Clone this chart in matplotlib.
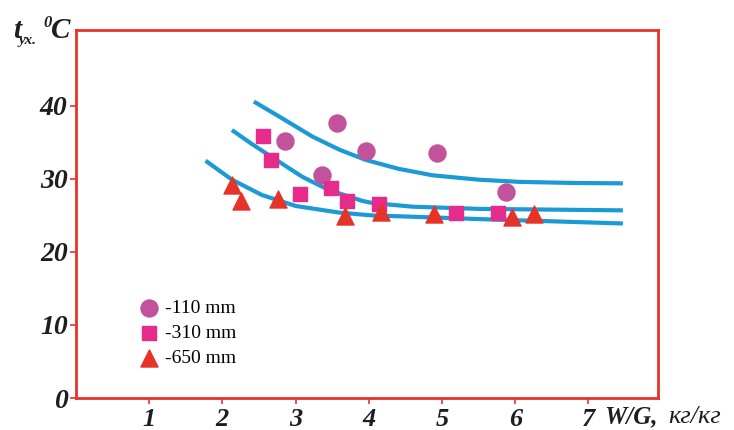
import matplotlib.pyplot as plt
import numpy as np

# measured points, W/G (kg/kg) vs t (deg C)
x_110 = [2.85, 3.36, 3.56, 3.96, 4.93, 5.87]
t_110 = [35.2, 30.5, 37.7, 33.8, 33.6, 28.2]

x_310 = [2.55, 2.66, 3.06, 3.48, 3.70, 4.14, 5.19, 5.77]
t_310 = [35.9, 32.6, 27.9, 28.8, 27.0, 26.6, 25.3, 25.3]

x_650 = [2.13, 2.26, 2.76, 3.67, 4.17, 4.89, 5.96, 6.25]
t_650 = [29.2, 27.0, 27.3, 24.9, 25.5, 25.2, 24.8, 25.2]

# trend curves
cx_top = [2.43, 2.8, 3.23, 3.6, 3.96, 4.4, 4.87, 5.5, 6.06, 6.8, 7.47]
cy_top = [40.6, 38.4, 35.8, 34.0, 32.6, 31.4, 30.5, 29.9, 29.6, 29.45, 29.4]

cx_mid = [2.13, 2.4, 2.66, 3.09, 3.45, 3.91, 4.05, 4.60, 5.51, 6.5, 7.47]
cy_mid = [36.7, 34.8, 33.1, 30.3, 28.5, 27.0, 26.7, 26.2, 25.9, 25.8, 25.7]

cx_low = [1.77, 2.13, 2.54, 3.0, 3.59, 4.05, 4.37, 4.97, 5.51, 6.5, 7.47]
cy_low = [32.5, 29.9, 27.8, 26.3, 25.4, 25.0, 24.9, 24.7, 24.5, 24.2, 23.9]

xticks = [1, 2, 3, 4, 5, 6, 7]
yticks = [0, 10, 20, 30, 40]

red = '#e8322b'
blue = '#1c9ad6'
ink = '#1e1e1e'
serif = 'Liberation Serif'

fig = plt.figure(figsize=(7.34, 4.30), dpi=100)
ax = fig.add_axes([76 / 734, 32 / 430, 582 / 734, 368 / 430])

for cx, cy in [(cx_top, cy_top), (cx_mid, cy_mid), (cx_low, cy_low)]:
    ax.plot(cx, cy, color=blue, lw=3, solid_capstyle='butt', zorder=2)

ax.scatter(x_110, t_110, s=150, marker='o', color='#c2529b', label='-110 mm', zorder=3)
ax.scatter(x_310, t_310, s=110, marker='s', color='#e62b8a', label='-310 mm', zorder=3)
ax.scatter(x_650, t_650, s=150, marker='^', color='#e5332a', label='-650 mm', zorder=3)

ax.set_xlim(0, 7.95)
ax.set_ylim(0, 50.4)
ax.set_xticks(xticks)
ax.set_yticks(yticks)
ax.set_xticklabels([str(v) for v in xticks], fontfamily=serif, fontweight='bold',
                   fontstyle='italic', fontsize=19)
ax.set_yticklabels([str(v) for v in yticks], fontfamily=serif, fontweight='bold',
                   fontstyle='italic', fontsize=20)
ax.tick_params(axis='both', colors=red, direction='out', length=4, width=1.2, labelcolor=ink)
ax.tick_params(axis='x', pad=3)
ax.tick_params(axis='y', pad=2)

for sp in ax.spines.values():
    sp.set_color(red)
    sp.set_linewidth(2)

leg = ax.legend(loc='upper left', bbox_to_anchor=(0.095, 0.29), frameon=False,
                handlelength=1.0, handletextpad=0.35, labelspacing=0.38, borderaxespad=0,
                prop={'family': serif, 'size': 14})

# axis titles
fig.text(13 / 734, 1 - 38 / 430, 't', fontfamily=serif, fontweight='bold', fontstyle='italic',
         fontsize=21, color=ink)
fig.text(19 / 734, 1 - 44 / 430, 'ух.', fontfamily=serif, fontweight='bold', fontstyle='italic',
         fontsize=11, color=ink)
fig.text(43 / 734, 1 - 27 / 430, '0', fontfamily=serif, fontweight='bold', fontstyle='italic',
         fontsize=12, color=ink)
fig.text(51 / 734, 1 - 38 / 430, 'C', fontfamily=serif, fontweight='bold', fontstyle='italic',
         fontsize=21, color=ink)
fig.text(604 / 734, 1 - 423 / 430, 'W/G,', fontfamily=serif, fontweight='bold', fontstyle='italic',
         fontsize=18, color=ink)
fig.text(668 / 734, 1 - 423 / 430, 'кг/кг', fontfamily=serif, fontstyle='italic',
         fontsize=19, color=ink)

fig.savefig('out.png', dpi=100)
